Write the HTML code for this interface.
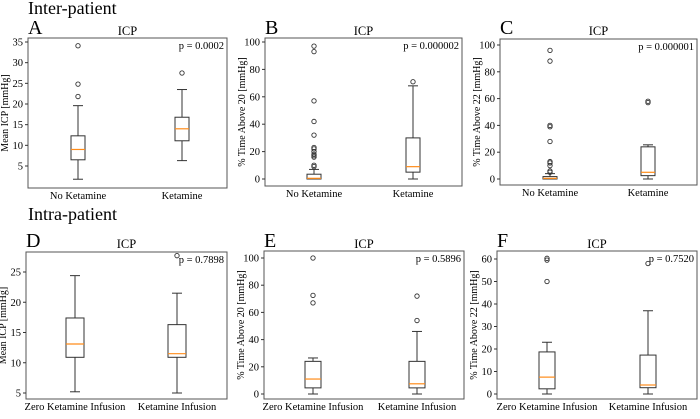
<!DOCTYPE html>
<html><head><meta charset="utf-8"><style>
body{margin:0;background:#fff;width:700px;height:414px;overflow:hidden}
svg, svg text{font-family:"Liberation Serif","DejaVu Serif",serif}
</style></head><body>
<svg id="fig" width="700" height="414" xmlns="http://www.w3.org/2000/svg">
<text x="28" y="14" font-size="18">Inter-patient</text>
<text x="28" y="220" font-size="18">Intra-patient</text>
</svg>
<script>
// Data: [low whisker, Q1, median, Q3, high whisker]
const panelLetters = ["A","B","C","D","E","F"];
const pValues = ["p = 0.0002","p = 0.000002","p = 0.000001","p = 0.7898","p = 0.5896","p = 0.7520"];
const yLabels = ["Mean ICP [mmHg]","% Time Above 20 [mmHg]","% Time Above 22 [mmHg]","Mean ICP [mmHg]","% Time Above 20 [mmHg]","% Time Above 22 [mmHg]"];
const interCats = ["No Ketamine","Ketamine"];
const intraCats = ["Zero Ketamine Infusion","Ketamine Infusion"];
const ticksA = [5,10,15,20,25,30,35];
const ticksPct = [0,20,40,60,80,100];
const ticksD = [5,10,15,20,25];
const ticksF = [0,10,20,30,40,50,60];
const statsA = [[1.8,6.5,9,12.3,19.6],[6.3,11.1,14,16.8,23.5]];
const fliersA = [[21.8,24.8,34.1],[27.5]];
const statsB = [[0,0,0.5,3.5,7],[0,5,9,30,68]];
const fliersB = [[9,10,16,17,18,20,22,23,32,42,57,93,97],[71]];
const statsC = [[0,0,0.5,1.8,4],[0,2.5,5,24,25.5]];
const fliersC = [[5,6,10,12,13,28,39,40,88,96],[57,58]];
const statsD = [[5.2,10.9,13.1,17.4,24.4],[5,10.9,11.5,16.3,21.5]];
const fliersD = [[],[27.7]];
const statsE = [[0,4.5,11,24,26.5],[0,4.5,7.5,24,46]];
const fliersE = [[67,72.5,100],[54,72]];
const statsF = [[0,2.3,7.5,18.7,23],[0,2.8,4,17.3,37]];
const fliersF = [[50,59.5,60.3],[58]];

const svg=document.getElementById('fig');
const NS="http://www.w3.org/2000/svg";
function mk(tag,attrs,parent){const e=document.createElementNS(NS,tag);for(const k in attrs)e.setAttribute(k,attrs[k]);(parent||svg).appendChild(e);return e;}

const panels=[
 {x0:28,x1:227,y0:38,y1:188,t0:35,p0:42,t1:5,p1:166,cx:[78,182],ticks:ticksA,stats:statsA,fliers:fliersA,cats:interCats,ty:35,hw:7},
 {x0:265,x1:462,y0:38,y1:186,t0:100,p0:42,t1:0,p1:179,cx:[314,413],ticks:ticksPct,stats:statsB,fliers:fliersB,cats:interCats,ty:35,hw:7},
 {x0:500,x1:697,y0:39,y1:185,t0:100,p0:45,t1:0,p1:179,cx:[550,648],ticks:ticksPct,stats:statsC,fliers:fliersC,cats:interCats,ty:35,hw:7},
 {x0:26,x1:227,y0:252,y1:399,t0:25,p0:272,t1:5,p1:393,cx:[75,177],ticks:ticksD,stats:statsD,fliers:fliersD,cats:intraCats,ty:248,hw:9},
 {x0:264,x1:464,y0:251,y1:399,t0:100,p0:258,t1:0,p1:394,cx:[313,417],ticks:ticksPct,stats:statsE,fliers:fliersE,cats:intraCats,ty:248,hw:8},
 {x0:497,x1:697,y0:251,y1:399,t0:60,p0:259,t1:0,p1:394,cx:[547,648],ticks:ticksF,stats:statsF,fliers:fliersF,cats:intraCats,ty:248,hw:8}
];
panels.forEach((p,i)=>{
 const g=mk('g',{});
 
 
 const y=v=>p.p1+(v-p.t1)*(p.p0-p.p1)/(p.t0-p.t1);
 const fr=mk('rect',{x:p.x0,y:p.y0,width:p.x1-p.x0,height:p.y1-p.y0,fill:'none',stroke:'#555','stroke-width':1},g);
 
 
 const lt=mk('text',{x:p.x0,y:p.ty-1,'font-size':20},g);lt.textContent=panelLetters[i];
 
 
 const tt=mk('text',{x:(p.x0+p.x1)/2,y:p.ty,'font-size':12.5,'text-anchor':'middle'},g);tt.textContent="ICP";
 
 
 const pv=mk('text',{x:p.x1-3,y:p.y0+11,'font-size':10.5,'text-anchor':'end'},g);pv.textContent=pValues[i];
 
 
 const yl=mk('text',{transform:`translate(${p.x0-20},${(p.y0+p.y1)/2}) rotate(-90)`,'font-size':10,'text-anchor':'middle'},g);yl.textContent=yLabels[i];
 
 
 p.ticks.forEach(t=>{
  const yy=y(t);
  const tk=mk('line',{x1:p.x0-3,x2:p.x0,y1:yy,y2:yy,stroke:'#333'},g);
  
  
  const tl=mk('text',{x:p.x0-5,y:yy+3.5,'font-size':10.5,'text-anchor':'end'},g);tl.textContent=t;
  
  
 });
 p.cats.forEach((c,j)=>{
  const cx=p.cx[j];
  const xl=mk('text',{x:cx,y:p.y1+11,'font-size':10.5,'text-anchor':'middle'},g);xl.textContent=c;
  
  
  const s=p.stats[j];
  const bg=mk('g',{},g);
  
  
  const hw=p.hw,cw=5;
  mk('line',{x1:cx,x2:cx,y1:y(s[0]),y2:y(s[1]),stroke:'#333'},bg);
  mk('line',{x1:cx,x2:cx,y1:y(s[3]),y2:y(s[4]),stroke:'#333'},bg);
  mk('line',{x1:cx-cw,x2:cx+cw,y1:y(s[0]),y2:y(s[0]),stroke:'#333'},bg);
  mk('line',{x1:cx-cw,x2:cx+cw,y1:y(s[4]),y2:y(s[4]),stroke:'#333'},bg);
  mk('rect',{x:cx-hw,y:y(s[3]),width:2*hw,height:Math.max(0.5,y(s[1])-y(s[3])),fill:'#fff',stroke:'#333'},bg);
  mk('line',{x1:cx-hw,x2:cx+hw,y1:y(s[2]),y2:y(s[2]),stroke:'#ff8c1a','stroke-width':1.2},bg);
  p.fliers[j].forEach(f=>{
   const fc=mk('circle',{cx:cx,cy:y(f),r:2.2,fill:'none',stroke:'#333','stroke-width':0.9},bg);
   
   
  });
 });
});
</script>
</body></html>
